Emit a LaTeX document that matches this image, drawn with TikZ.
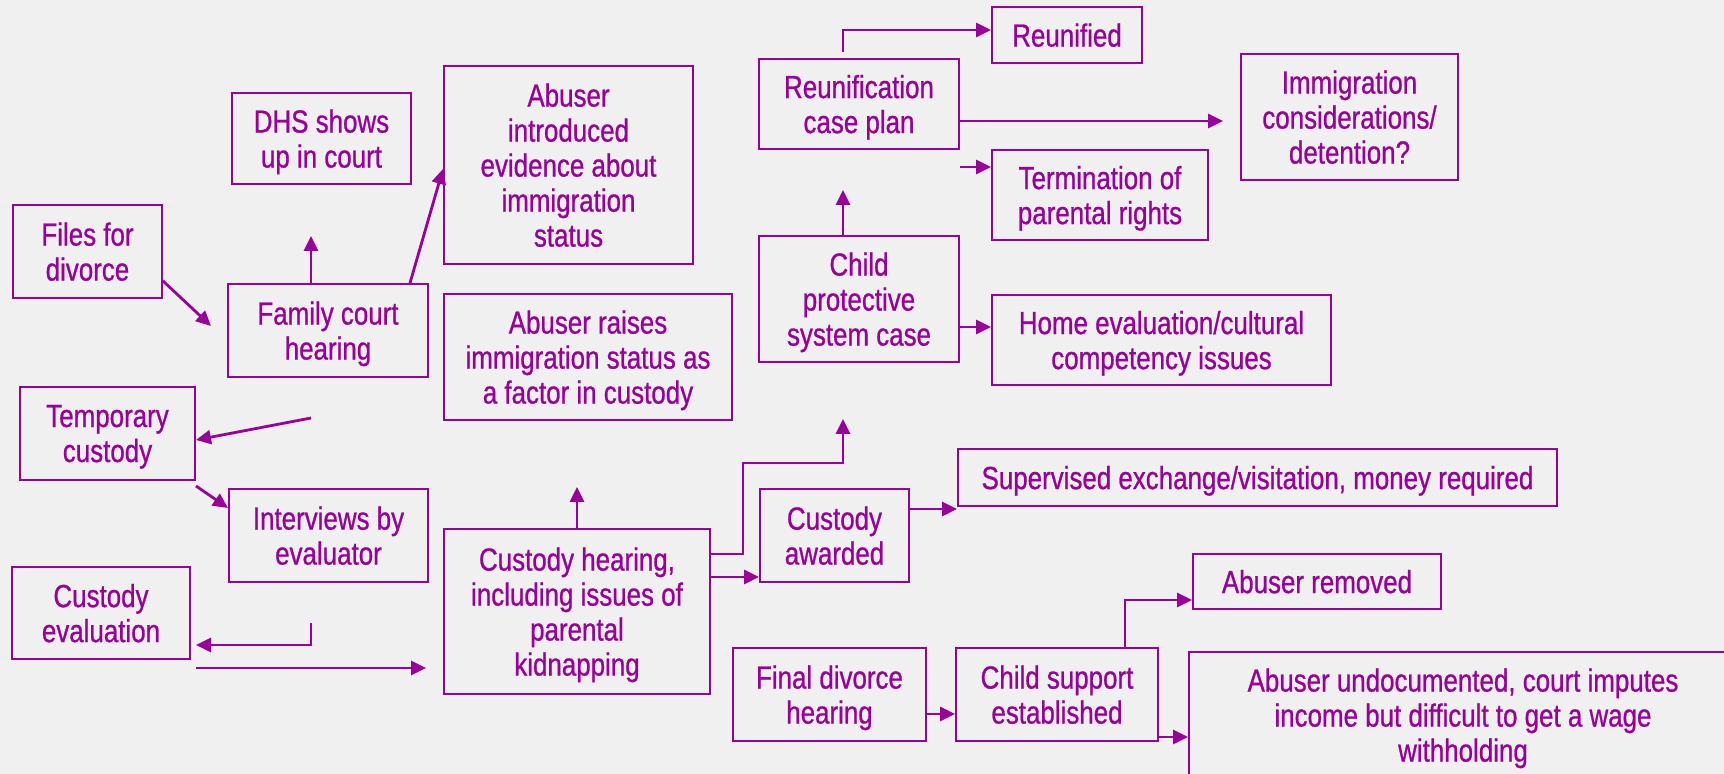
\documentclass[tikz,border=0pt]{standalone}
\usepackage{fontspec}
\setmainfont{Liberation Sans}[FakeStretch=0.81, FakeBold=0.8]
\usetikzlibrary{arrows.meta}
\definecolor{pur}{RGB}{153,0,153}
\definecolor{bg}{RGB}{240,240,240}
\tikzset{
  box/.style={draw=pur, line width=1pt, align=center, inner sep=0pt, text=pur,
    text depth=0pt, font=\fontsize{16}{17.5}\selectfont},
  txt/.style={align=center, inner sep=0pt, text=pur, text depth=0pt,
    font=\fontsize{16}{17.5}\selectfont},
  conn/.style={draw=pur, line width=1.4pt, -{Triangle[length=7.5pt,width=7pt]}},
}
\begin{document}
\begin{tikzpicture}[x=0.5pt, y=-0.5pt]
\useasboundingbox (0,0) rectangle (1724,774);
\fill[bg] (0,0) rectangle (1724,774);
\clip (0,0) rectangle (1724,774);

% boxes
\node[box, minimum width=74.5pt, minimum height=46.5pt] (files) at (87.5,251.5) {Files for\\divorce};
\node[box, minimum width=100pt, minimum height=46.5pt] (family) at (328,330.5) {Family court\\hearing};
\node[box, minimum width=87.5pt, minimum height=46.5pt] (temp) at (107.5,433.5) {Temporary\\custody};
\node[box, minimum width=99.5pt, minimum height=46.5pt] (interviews) at (328.5,535.5) {Interviews by\\evaluator};
\node[box, minimum width=89pt, minimum height=46pt] (custeval) at (101,613) {Custody\\evaluation};
\node[box, minimum width=133pt, minimum height=82.5pt] (custhearing) at (577,611.5) {Custody hearing,\\including issues of\\parental\\kidnapping};
\node[box, minimum width=74.5pt, minimum height=46.5pt] (awarded) at (834.5,535.5) {Custody\\awarded};
\node[box, minimum width=89.5pt, minimum height=45.5pt] (dhs) at (321.5,138.5) {DHS shows\\up in court};
\node[box, minimum width=124.5pt, minimum height=99pt] (introduced) at (568.5,165) {Abuser\\introduced\\evidence about\\immigration\\status};
\node[box, minimum width=144pt, minimum height=63pt] (raises) at (588,357) {Abuser raises\\immigration status as\\a factor in custody};
\node[box, minimum width=100pt, minimum height=45pt] (reunplan) at (859,104) {Reunification\\case plan};
\node[box, minimum width=75pt, minimum height=28pt] (reunified) at (1067,35) {Reunified};
\node[box, minimum width=108pt, minimum height=45pt] (termination) at (1100,195) {Termination of\\parental rights};
\node[box, minimum width=108.5pt, minimum height=63pt] (immigration) at (1349.5,117) {Immigration\\considerations/\\detention?};
\node[box, minimum width=100pt, minimum height=63pt] (cps) at (859,299) {Child\\protective\\system case};
\node[box, minimum width=169.5pt, minimum height=45pt] (homeeval) at (1161.5,340) {Home evaluation/cultural\\competency issues};
\node[box, minimum width=299.5pt, minimum height=28.5pt] (supervised) at (1257.5,477.5) {Supervised exchange/visitation, money required};
\node[box, minimum width=124pt, minimum height=27.5pt] (removed) at (1317,581.5) {Abuser removed};
\node[box, minimum width=96.5pt, minimum height=46.5pt] (finaldiv) at (829.5,694.5) {Final divorce\\hearing};
\node[box, minimum width=101pt, minimum height=46.5pt] (support) at (1057,694.5) {Child support\\established};
\node[box, anchor=north west, minimum width=300pt, minimum height=100pt] (undoc) at (1188,651) {};
\node[txt] (undoctext) at (1463,715) {Abuser undocumented, court imputes\\income but difficult to get a wage\\withholding};

% free ends of connectors
\coordinate (famin) at (211,326);
\coordinate (dhsup) at (311,236);
\coordinate (tempsrc) at (311,418);
\coordinate (evalsrc) at (311,623);
\coordinate (hearup) at (577,487);
\coordinate (cpsin) at (843,419);
\coordinate (planin) at (843,190);

% connectors
\draw[conn] (files.east |- 0,281) -- (famin);
\draw[conn] (family.north -| 311,0) -- (dhsup);
\draw[conn] (family.north -| 410,0) -- (introduced.west |- 0,169);
\draw[conn] (tempsrc) -- (temp.east |- 0,440);
\draw[conn] (temp.east |- 0,486) -- (interviews.west |- 0,508);
\draw[conn, shorten >=2.5pt] (evalsrc) |- (custeval.east |- 0,645);
\draw[conn, shorten <=2.5pt, shorten >=8.5pt] (custeval.east |- 0,668) -- (custhearing.west |- 0,668);
\draw[conn] (custhearing.north) -- (hearup);
\draw[conn] (custhearing.east |- 0,554) -- (743,554) -- (743,463) -- (843,463) -- (cpsin);
\draw[conn] (custhearing.east |- 0,577) -- (awarded.west |- 0,577);
\draw[conn] (awarded.east |- 0,509) -- (supervised.west |- 0,509);
\draw[conn] (cps.north -| 843,0) -- (planin);
\draw[conn, shorten <=3pt] (reunplan.north -| 843,0) |- (reunified.west |- 0,30);
\draw[conn, shorten >=8.5pt] (reunplan.east |- 0,121) -- (immigration.west |- 0,121);
\draw[conn] (reunplan.east |- 0,167) -- (termination.west |- 0,167);
\draw[conn] (cps.east |- 0,327) -- (homeeval.west |- 0,327);
\draw[conn] (finaldiv.east |- 0,714) -- (support.west |- 0,714);
\draw[conn] (support.north -| 1125,0) |- (removed.west |- 0,600);
\draw[conn] (support.east |- 0,737) -- (undoc.west |- 0,737);
\end{tikzpicture}
\end{document}
